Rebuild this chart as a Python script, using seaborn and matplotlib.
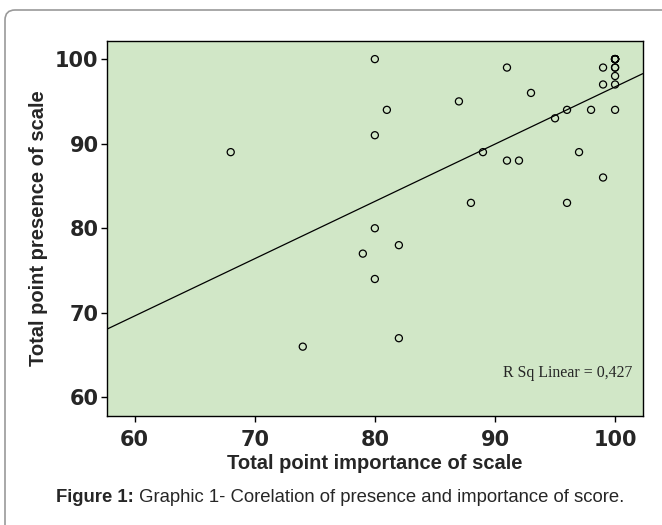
import matplotlib
matplotlib.use("Agg")
import matplotlib.pyplot as plt
from matplotlib.patches import FancyBboxPatch
from matplotlib.transforms import IdentityTransform
import seaborn as sns
import pandas as pd

# values (the bold circle at 100/100 hides several cases)
importance = [68, 74, 79, 80, 80, 80, 80, 81, 82, 82, 87, 88, 89, 91, 91, 92,
              93, 95, 96, 96, 97, 98, 99, 99, 99,
              100, 100, 100, 100, 100, 100, 100, 100, 100, 100, 100]
presence = [89, 66, 77, 100, 91, 80, 74, 94, 78, 67, 95, 83, 89, 99, 88, 88,
            96, 93, 94, 83, 89, 94, 99, 97, 86,
            100, 100, 100, 100, 100, 100, 99, 99, 98, 97, 94]
tick_values = [60, 70, 80, 90, 100]
r_sq_label = "R Sq Linear = 0,427"
caption_bold = "Figure 1:"
caption_text = " Graphic 1- Corelation of presence and importance of score."

df = pd.DataFrame({"importance": importance, "presence": presence})

sns.set_style("white")
plt.rcParams['font.family'] = ['Liberation Sans', 'DejaVu Sans']

fig = plt.figure(figsize=(6.62, 5.25), dpi=100)
ax = fig.add_axes([107 / 662, 1 - 416 / 525, (642.7 - 107) / 662, (416 - 40.5) / 525])
ax.set_facecolor("#d1e7c7")

# limits first so the fitted line runs edge to edge
ax.set_xlim(57.7, 102.3)
ax.set_ylim(57.8, 102.2)

sns.regplot(data=df, x="importance", y="presence", ax=ax, ci=None, truncate=False,
            scatter_kws={"facecolors": "none", "edgecolors": "black", "s": 26,
                         "linewidths": 0.9, "alpha": 1},
            line_kws={"color": "black", "linewidth": 0.9})

ax.set_xticks(tick_values)
ax.set_yticks(tick_values)
ax.tick_params(axis="both", direction="out", length=4, width=1, color="black",
               labelsize=15, left=True, bottom=True)
ax.tick_params(axis="x", pad=6)
ax.tick_params(axis="y", pad=2)
for lab in ax.get_xticklabels() + ax.get_yticklabels():
    lab.set_family("DejaVu Sans")
    lab.set_fontweight("bold")

for side in ["left", "bottom", "top", "right"]:
    ax.spines[side].set_color("black")
    ax.spines[side].set_linewidth(1)

ax.set_xlabel("Total point importance of scale", fontsize=14.5, fontweight="bold", labelpad=3)
ax.set_ylabel("Total point presence of scale", fontsize=14.5, fontweight="bold", labelpad=5)

ax.text(0.98, 0.115, r_sq_label, transform=ax.transAxes, ha="right", va="center",
        fontsize=11.4, family=["Liberation Serif", "DejaVu Serif"])

# caption under the chart
t1 = fig.text(56 / 662, 1 - 498 / 525, caption_bold, fontsize=13.3, fontweight="bold",
              ha="left", va="center")
fig.canvas.draw()
bb = t1.get_window_extent()
fig.text(bb.x1 / 662, 1 - 498 / 525, caption_text, fontsize=13.3, ha="left", va="center")

# rounded grey frame clipped by the right/bottom edges
frame = FancyBboxPatch((5, -40), 720, 555, boxstyle="round,pad=0,rounding_size=10",
                       transform=IdentityTransform(), facecolor="none",
                       edgecolor="#9a9a9a", linewidth=1.2)
fig.add_artist(frame)

fig.savefig("out.png", dpi=100)
